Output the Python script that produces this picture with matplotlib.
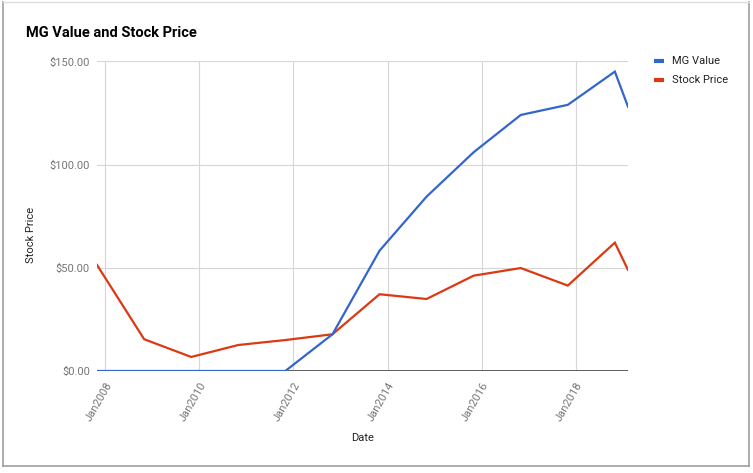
import matplotlib
matplotlib.use("Agg")
import matplotlib.pyplot as plt
from matplotlib.lines import Line2D
import datetime as dt

plt.rcParams['font.family'] = ['Roboto', 'DejaVu Sans']

dates = ["2007-10-31", "2008-10-31", "2009-10-31", "2010-10-31", "2011-10-31",
         "2012-10-31", "2013-10-31", "2014-10-31", "2015-10-31", "2016-10-31",
         "2017-10-31", "2018-10-31", "2019-02-10"]
mg_value = [0, 0, 0, 0, 0, 17.8, 58.3, 84.5, 106.0, 124.1, 129.0, 145.1, 128.1]
stock_price = [51.4, 15.4, 6.8, 12.6, 15.0, 17.8, 37.2, 34.9, 46.2, 49.9, 41.4, 62.2, 49.0]
tick_years = [2008, 2010, 2012, 2014, 2016, 2018]
y_ticks = [0, 50, 100, 150]

x = [dt.datetime.strptime(d, "%Y-%m-%d") for d in dates]

W, H = 753, 473
fig = plt.figure(figsize=(W / 100, H / 100), dpi=100)
fig.patch.set_facecolor('white')

left, right, top, bottom = 97, 628, 61.5, 371
ax = fig.add_axes([left / W, 1 - bottom / H, (right - left) / W, (bottom - top) / H])

ax.plot(x, stock_price, color='#dc3912', lw=1.6, zorder=3, solid_joinstyle='miter')
ax.plot(x, mg_value, color='#3366cc', lw=1.6, zorder=4, solid_joinstyle='miter')

ax.set_xlim(x[0], x[-1])
ax.set_ylim(0, 150)

ticks = [dt.datetime(y, 1, 1) for y in tick_years]
ax.set_xticks(ticks)
ax.set_xticklabels([t.strftime('%b%Y') for t in ticks], rotation=60,
                   ha='right', va='top', rotation_mode='anchor')
ax.set_yticks(y_ticks)
ax.set_yticklabels(['${:,.2f}'.format(v) for v in y_ticks])

ax.tick_params(axis='both', length=0, labelsize=8, labelcolor='#757575')
ax.tick_params(axis='x', pad=7)
ax.tick_params(axis='y', pad=5)

ax.grid(True, color='#d6d6d6', lw=0.8, zorder=0)
for s in ax.spines.values():
    s.set_visible(False)
ax.axhline(0, color='#444444', lw=1.2, zorder=2)

ax.set_xlabel('Date', fontsize=8, color='#222222', labelpad=7)
fig.text(31 / W, 1 - 235 / H, 'Stock Price', rotation=90, fontsize=8,
         color='#222222', ha='center', va='center')

fig.text(26 / W, 1 - 33 / H, 'MG Value and Stock Price', fontsize=10.5,
         fontweight='bold', color='#000000', ha='left', va='center')

# legend
for i, (lab, col) in enumerate([('MG Value', '#3366cc'), ('Stock Price', '#dc3912')]):
    yy = 1 - (61 + 19 * i) / H
    fig.add_artist(Line2D([654 / W, 664 / W], [yy, yy], color=col, lw=3,
                          transform=fig.transFigure, solid_capstyle='butt'))
    fig.text(672 / W, yy, lab, fontsize=8, color='#222222', ha='left', va='center')

# sheet frame
fig.add_artist(Line2D([3 / W, 3 / W], [1 - 2 / H, 1 - 466 / H], color='#9e9e9e', lw=1.2,
                      transform=fig.transFigure))
fig.add_artist(Line2D([749 / W, 749 / W], [1 - 2 / H, 1 - 466 / H], color='#9e9e9e', lw=1.2,
                      transform=fig.transFigure))
fig.add_artist(Line2D([3 / W, 749 / W], [1 - 466 / H, 1 - 466 / H], color='#9e9e9e', lw=1.2,
                      transform=fig.transFigure))
fig.add_artist(Line2D([3 / W, 749 / W], [1 - 2 / H, 1 - 2 / H], color='#dddddd', lw=1,
                      transform=fig.transFigure))

fig.savefig('out.png', dpi=100, facecolor='white')
